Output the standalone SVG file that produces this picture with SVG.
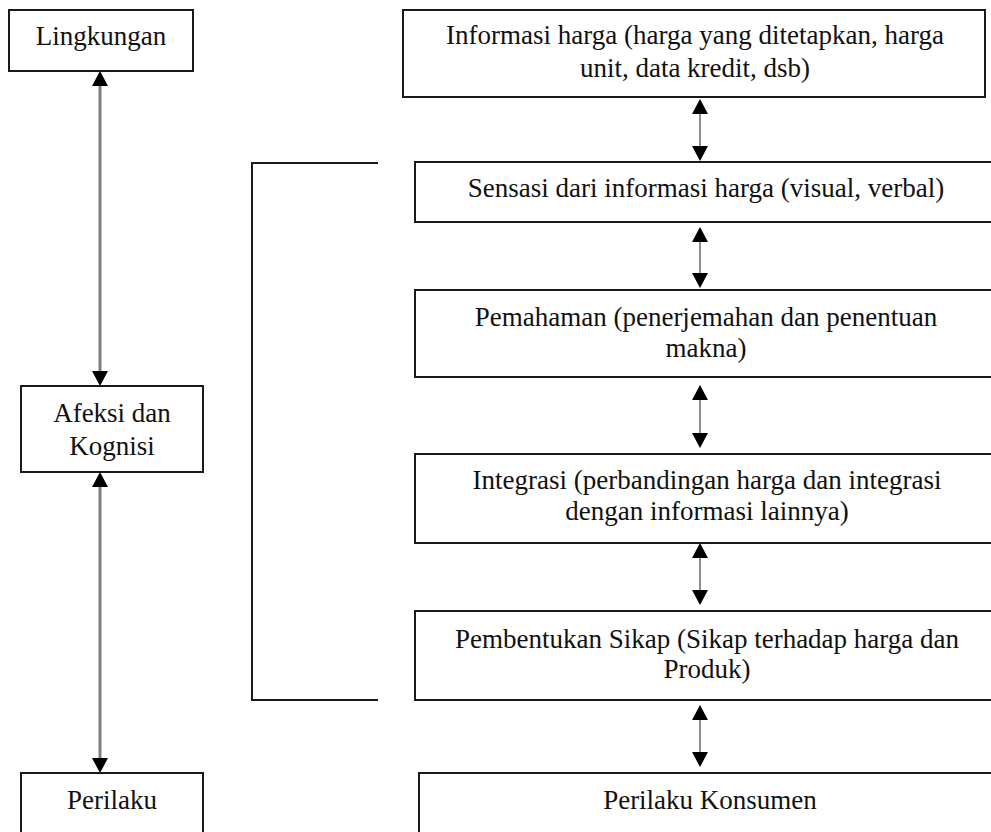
<svg xmlns="http://www.w3.org/2000/svg" width="991" height="832" viewBox="0 0 991 832">
<style>
.box{fill:#fff;stroke:#1a1a1a;stroke-width:2}
.t{font-family:"Liberation Serif","Times New Roman",serif;font-size:27px;fill:#111;text-anchor:middle}
.la{stroke:#808080;stroke-width:3;fill:none}
.ra{stroke:#707070;stroke-width:1.6;fill:none}
.br{stroke:#1a1a1a;stroke-width:2;fill:none}
</style>
<defs>
<marker id="ah" viewBox="0 0 15 16" refX="1" refY="8" markerWidth="15" markerHeight="16" markerUnits="userSpaceOnUse" orient="auto-start-reverse">
<path d="M0,0 L15,8 L0,16 z" fill="#000"/>
</marker>
</defs>
<rect width="991" height="832" fill="#fff"/>
<g id="connectors">
<line class="la" x1="100" y1="85" x2="100" y2="372" marker-start="url(#ah)" marker-end="url(#ah)"/>
<line class="la" x1="100" y1="486" x2="100" y2="759" marker-start="url(#ah)" marker-end="url(#ah)"/>
<line class="ra" x1="700" y1="113" x2="700" y2="147" marker-start="url(#ah)" marker-end="url(#ah)"/>
<line class="ra" x1="700" y1="241" x2="700" y2="274" marker-start="url(#ah)" marker-end="url(#ah)"/>
<line class="ra" x1="700" y1="399" x2="700" y2="434" marker-start="url(#ah)" marker-end="url(#ah)"/>
<line class="ra" x1="700" y1="557" x2="700" y2="591" marker-start="url(#ah)" marker-end="url(#ah)"/>
<line class="ra" x1="700" y1="719" x2="700" y2="753" marker-start="url(#ah)" marker-end="url(#ah)"/>
<path class="br" d="M378,163 H252 V700 H378"/>
</g>
<g id="lingkungan">
<rect class="box" x="9" y="10" width="184" height="61"/>
<text class="t" x="101" y="45">Lingkungan</text>
</g>
<g id="afeksi">
<rect class="box" x="21" y="386" width="182" height="86"/>
<text class="t" x="112" y="422">Afeksi dan</text>
<text class="t" x="112" y="455">Kognisi</text>
</g>
<g id="perilaku">
<rect class="box" x="21" y="773" width="182" height="70"/>
<text class="t" x="112" y="809">Perilaku</text>
</g>
<g id="informasi">
<rect class="box" x="403" y="10" width="582" height="87"/>
<text class="t" x="695" y="44">Informasi harga (harga yang ditetapkan, harga</text>
<text class="t" x="695" y="77">unit, data kredit, dsb)</text>
</g>
<g id="sensasi">
<rect class="box" x="415" y="162" width="590" height="60"/>
<text class="t" x="706" y="197">Sensasi dari informasi harga (visual, verbal)</text>
</g>
<g id="pemahaman">
<rect class="box" x="415" y="290" width="590" height="87"/>
<text class="t" x="706" y="326">Pemahaman (penerjemahan dan penentuan</text>
<text class="t" x="706" y="357">makna)</text>
</g>
<g id="integrasi">
<rect class="box" x="415" y="454" width="590" height="89"/>
<text class="t" x="707" y="489">Integrasi (perbandingan harga dan integrasi</text>
<text class="t" x="707" y="520">dengan informasi lainnya)</text>
</g>
<g id="pembentukan">
<rect class="box" x="415" y="611" width="590" height="89"/>
<text class="t" x="707" y="648">Pembentukan Sikap (Sikap terhadap harga dan</text>
<text class="t" x="707" y="678">Produk)</text>
</g>
<g id="perilaku-konsumen">
<rect class="box" x="419" y="773" width="590" height="70"/>
<text class="t" x="710" y="809">Perilaku Konsumen</text>
</g>
</svg>
